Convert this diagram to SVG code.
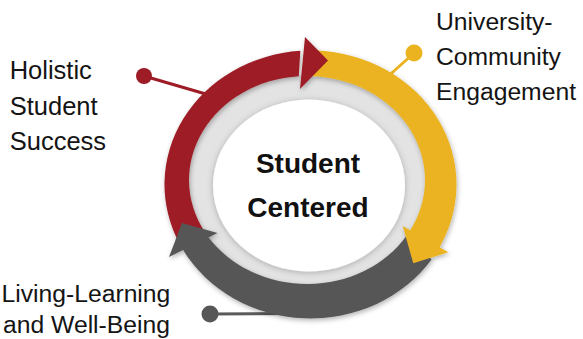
<svg xmlns="http://www.w3.org/2000/svg" width="583" height="339" viewBox="0 0 583 339">
  <defs>
    <filter id="sh" x="-20%" y="-20%" width="140%" height="140%">
      <feDropShadow dx="1" dy="2" stdDeviation="2.5" flood-color="#000" flood-opacity="0.3"/>
    </filter>
    <filter id="shw" x="-20%" y="-20%" width="140%" height="140%">
      <feDropShadow dx="0" dy="1" stdDeviation="3" flood-color="#000" flood-opacity="0.25"/>
    </filter>
    <style>
      .lbl { font-family: "Liberation Sans", Arial, sans-serif; font-size: 24.7px; fill: #141414; }
      .ctr { font-family: "Liberation Sans", Arial, sans-serif; font-size: 28px; font-weight: bold; fill: #111; text-anchor: middle; }
      .red { fill: #9d1c25; }
      .yel { fill: #ebb320; }
      .gry { fill: #575757; }
      .lred { stroke: #9d1c25; stroke-width: 3; fill: none; }
      .lyel { stroke: #ebb320; stroke-width: 3; fill: none; }
      .lgry { stroke: #5a5a5a; stroke-width: 3; fill: none; }
    </style>
  </defs>
  <rect width="583" height="339" fill="#fff"/>

  <g id="connectors">
    <line class="lred" x1="144" y1="76" x2="216" y2="97"/>
    <line class="lyel" x1="414" y1="53" x2="384" y2="80"/>
    <line class="lgry" x1="210" y1="314" x2="292" y2="313.5"/>
  </g>

  <g id="center">
    <ellipse cx="307" cy="180" rx="119" ry="105" fill="#e3e3e3"/>
    <ellipse cx="309" cy="185.5" rx="96" ry="86" fill="#fff" filter="url(#shw)"/>
    <text class="ctr" x="308" y="173.3">Student</text>
    <text class="ctr" x="308" y="216.7">Centered</text>
  </g>

  <g id="ring" filter="url(#sh)">
    <path class="gry" d="M431.54 259.43 A146 134 0 0 1 182.81 249.46 L208.04 236.64 A118 104 0 0 0 407.07 235.11 Z"/>
    <path class="yel" d="M315.60 50.58 A146 134 0 0 1 436.94 251.5 L409.19 232 A118 104 0 0 0 311.12 76.06 Z"/>
    <path class="red" d="M180.41 245.33 A146 134 0 0 1 300.32 50.83 L298.77 76.25 A118 104 0 0 0 204.81 232 Z"/>
    <polygon class="red" points="305,37 328,60.5 300,89"/>
    <polygon class="yel" points="402.7,226 448.3,252.3 413.3,263.3"/>
    <polygon class="gry" points="182,223 169,257 217.5,233"/>
  </g>

  <g id="holistic">
    <circle class="red" cx="144" cy="76" r="8"/>
    <text class="lbl" x="9.7" y="79.3" style="font-size:25.5px">Holistic</text>
    <text class="lbl" x="9.7" y="115" style="font-size:25.5px">Student</text>
    <text class="lbl" x="9.7" y="150" style="font-size:25.5px">Success</text>
  </g>

  <g id="university">
    <circle class="yel" cx="414" cy="53" r="8.5"/>
    <text class="lbl" x="436" y="30">University-</text>
    <text class="lbl" x="436" y="65">Community</text>
    <text class="lbl" x="436" y="100">Engagement</text>
  </g>

  <g id="living">
    <circle class="gry" cx="210" cy="314" r="8.5"/>
    <text class="lbl" x="1.5" y="301.7">Living-Learning</text>
    <text class="lbl" x="3" y="333.3">and Well-Being</text>
  </g>
</svg>
